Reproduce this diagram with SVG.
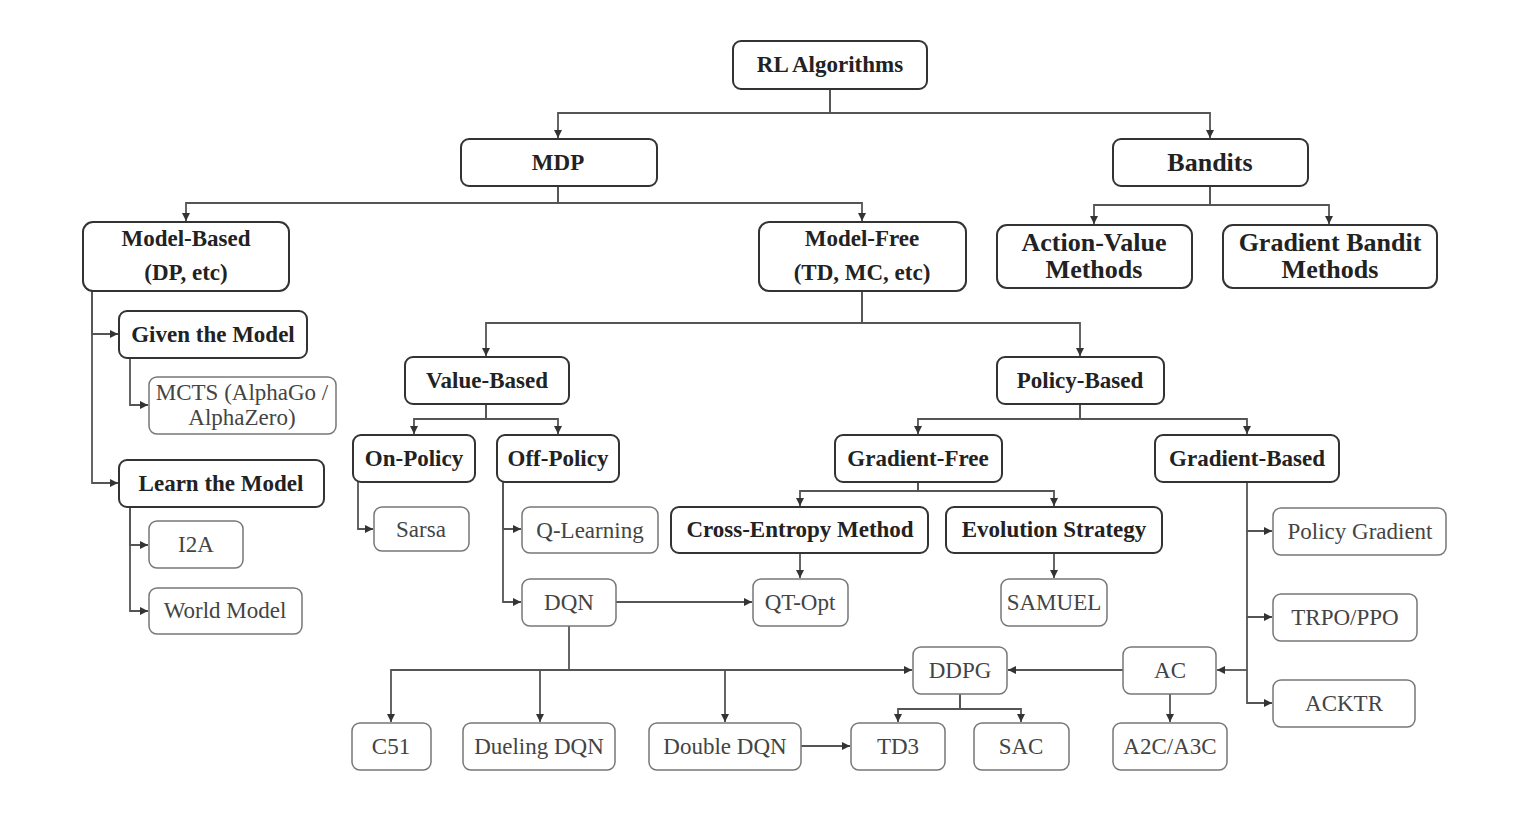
<svg xmlns="http://www.w3.org/2000/svg" width="1526" height="830" viewBox="0 0 1526 830">
<defs>
<style>
.b rect{fill:#fff;stroke:#333;stroke-width:2}
.r rect{fill:#fff;stroke:#777;stroke-width:1.5}
.b text{font-weight:bold;font-size:23px;fill:#222;text-anchor:middle}
.r text{font-size:23px;fill:#444;text-anchor:middle}
.big text{font-size:26px}
#connectors path{fill:none;stroke:#555;stroke-width:1.8}
#connectors path.a{marker-end:url(#arr)}
</style>
<marker id="arr" markerUnits="userSpaceOnUse" markerWidth="10" markerHeight="10" refX="8" refY="4" orient="auto">
<path d="M0,0 L8,4 L0,8 Z" fill="#333"/>
</marker>
</defs>
<rect width="1526" height="830" fill="#fff"/>
<g id="connectors">
<path class="a" d="M830,89 V113 H558 V138"/>
<path class="a" d="M830,89 V113 H1210 V138"/>
<path class="a" d="M558,186 V203 H186 V221"/>
<path class="a" d="M558,186 V203 H862 V221"/>
<path class="a" d="M1210,186 V205 H1094 V224"/>
<path class="a" d="M1210,186 V205 H1329 V224"/>
<path class="a" d="M92,291 V334 H118"/>
<path class="a" d="M92,291 V483 H118"/>
<path class="a" d="M130,358 V405 H148"/>
<path class="a" d="M130,507 V545 H148"/>
<path class="a" d="M130,507 V611 H148"/>
<path class="a" d="M862,291 V323 H486 V356"/>
<path class="a" d="M862,291 V323 H1080 V356"/>
<path class="a" d="M486,404 V419 H414 V434"/>
<path class="a" d="M486,404 V419 H558 V434"/>
<path class="a" d="M358,482 V529 H373"/>
<path class="a" d="M503,482 V529 H521"/>
<path class="a" d="M503,482 V602 H521"/>
<path class="a" d="M616,602 H752"/>
<path class="a" d="M569,626 V670 H391 V722"/>
<path class="a" d="M569,670 H540 V722"/>
<path class="a" d="M569,670 H725 V722"/>
<path class="a" d="M725,670 H912"/>
<path class="a" d="M1080,404 V419 H918 V434"/>
<path class="a" d="M1080,404 V419 H1247 V434"/>
<path class="a" d="M918,482 V491 H800 V506"/>
<path class="a" d="M918,482 V491 H1054 V506"/>
<path class="a" d="M800,553 V578"/>
<path class="a" d="M1054,553 V578"/>
<path class="a" d="M1247,482 V531 H1272"/>
<path class="a" d="M1247,531 V617 H1272"/>
<path class="a" d="M1247,617 V703 H1272"/>
<path class="a" d="M1247,670 H1217"/>
<path class="a" d="M1123,670 H1008"/>
<path class="a" d="M1170,694 V722"/>
<path class="a" d="M960,694 V709 H898 V722"/>
<path class="a" d="M960,694 V709 H1021 V722"/>
<path class="a" d="M801,746 H850"/>
</g>
<g id="nodes" font-family="'Liberation Serif', serif">
<g id="rl" class="b"><rect x="733" y="41" width="194" height="48" rx="8"/><text x="830" y="72">RL Algorithms</text></g>
<g id="mdp" class="b"><rect x="461" y="139" width="196" height="47" rx="8"/><text x="558" y="170">MDP</text></g>
<g id="bandits" class="b big"><rect x="1113" y="139" width="195" height="47" rx="8"/><text x="1210" y="171">Bandits</text></g>
<g id="model-based" class="b"><rect x="83" y="222" width="206" height="69" rx="10"/><text x="186" y="246">Model-Based</text><text x="186" y="280">(DP, etc)</text></g>
<g id="model-free" class="b"><rect x="759" y="222" width="207" height="69" rx="10"/><text x="862" y="246">Model-Free</text><text x="862" y="280">(TD, MC, etc)</text></g>
<g id="action-value" class="b big"><rect x="997" y="225" width="195" height="63" rx="10"/><text x="1094" y="251">Action-Value</text><text x="1094" y="278">Methods</text></g>
<g id="gradient-bandit" class="b big"><rect x="1223" y="225" width="214" height="63" rx="10"/><text x="1330" y="251">Gradient Bandit</text><text x="1330" y="278">Methods</text></g>
<g id="given" class="b"><rect x="119" y="311" width="188" height="47" rx="8"/><text x="213" y="342">Given the Model</text></g>
<g id="mcts" class="r"><rect x="149" y="377" width="187" height="57" rx="8"/><text x="242" y="400">MCTS (AlphaGo /</text><text x="242" y="425">AlphaZero)</text></g>
<g id="learn" class="b"><rect x="119" y="460" width="205" height="47" rx="8"/><text x="221" y="491">Learn the Model</text></g>
<g id="i2a" class="r"><rect x="149" y="521" width="94" height="47" rx="8"/><text x="196" y="552">I2A</text></g>
<g id="world" class="r"><rect x="149" y="588" width="153" height="46" rx="8"/><text x="225" y="618">World Model</text></g>
<g id="value-based" class="b"><rect x="405" y="357" width="164" height="47" rx="8"/><text x="487" y="388">Value-Based</text></g>
<g id="on-policy" class="b"><rect x="353" y="435" width="122" height="47" rx="8"/><text x="414" y="466">On-Policy</text></g>
<g id="off-policy" class="b"><rect x="497" y="435" width="122" height="47" rx="8"/><text x="558" y="466">Off-Policy</text></g>
<g id="sarsa" class="r"><rect x="374" y="507" width="95" height="44" rx="8"/><text x="421" y="537">Sarsa</text></g>
<g id="q-learning" class="r"><rect x="522" y="507" width="136" height="46" rx="8"/><text x="590" y="538">Q-Learning</text></g>
<g id="dqn" class="r"><rect x="522" y="579" width="94" height="47" rx="8"/><text x="569" y="610">DQN</text></g>
<g id="policy-based" class="b"><rect x="997" y="357" width="167" height="47" rx="8"/><text x="1080" y="388">Policy-Based</text></g>
<g id="gradient-free" class="b"><rect x="835" y="435" width="167" height="47" rx="8"/><text x="918" y="466">Gradient-Free</text></g>
<g id="gradient-based" class="b"><rect x="1155" y="435" width="184" height="47" rx="8"/><text x="1247" y="466">Gradient-Based</text></g>
<g id="cem" class="b"><rect x="671" y="507" width="257" height="46" rx="8"/><text x="800" y="537">Cross-Entropy Method</text></g>
<g id="es" class="b"><rect x="946" y="507" width="216" height="46" rx="8"/><text x="1054" y="537">Evolution Strategy</text></g>
<g id="qt-opt" class="r"><rect x="753" y="579" width="95" height="47" rx="8"/><text x="800" y="610">QT-Opt</text></g>
<g id="samuel" class="r"><rect x="1001" y="579" width="106" height="47" rx="8"/><text x="1054" y="610">SAMUEL</text></g>
<g id="pg" class="r"><rect x="1273" y="508" width="173" height="47" rx="8"/><text x="1360" y="539">Policy Gradient</text></g>
<g id="trpo" class="r"><rect x="1273" y="594" width="144" height="47" rx="8"/><text x="1345" y="625">TRPO/PPO</text></g>
<g id="acktr" class="r"><rect x="1273" y="680" width="142" height="47" rx="8"/><text x="1344" y="711">ACKTR</text></g>
<g id="ac" class="r"><rect x="1123" y="647" width="93" height="47" rx="8"/><text x="1170" y="678">AC</text></g>
<g id="ddpg" class="r"><rect x="913" y="647" width="94" height="47" rx="8"/><text x="960" y="678">DDPG</text></g>
<g id="c51" class="r"><rect x="352" y="723" width="79" height="47" rx="8"/><text x="391" y="754">C51</text></g>
<g id="dueling" class="r"><rect x="463" y="723" width="152" height="47" rx="8"/><text x="539" y="754">Dueling DQN</text></g>
<g id="double" class="r"><rect x="649" y="723" width="152" height="47" rx="8"/><text x="725" y="754">Double DQN</text></g>
<g id="td3" class="r"><rect x="851" y="723" width="94" height="47" rx="8"/><text x="898" y="754">TD3</text></g>
<g id="sac" class="r"><rect x="974" y="723" width="95" height="47" rx="8"/><text x="1021" y="754">SAC</text></g>
<g id="a2c" class="r"><rect x="1113" y="723" width="114" height="47" rx="8"/><text x="1170" y="754">A2C/A3C</text></g>
</g>
</svg>
